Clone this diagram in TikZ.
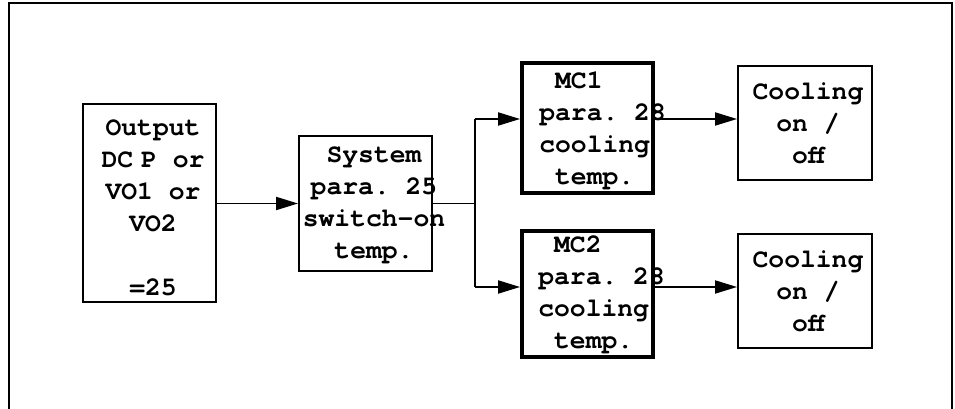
\documentclass[tikz,border=0pt]{standalone}
\usepackage{fontspec}
\setmainfont{TeX Gyre Cursor}
\usetikzlibrary{arrows.meta}
\frenchspacing

\tikzset{
  blk/.style={draw, line width=1.1pt, minimum width=2.66cm, inner sep=0pt},
  mcblk/.style={blk, line width=2.2pt, minimum width=2.62cm},
  txt/.style={inner sep=0pt, font=\fontsize{15}{18.2}\selectfont\bfseries},
  pfeil/.style={-{Triangle[length=4.4mm,width=2.6mm]}, line width=1.1pt}
}

\begin{document}
\begin{tikzpicture}
\useasboundingbox (0,0) rectangle (19.1,-8.18);
\draw[line width=1.1pt] (0.18,-8.3) -- (0.18,-0.06) -- (19.04,-0.06) -- (19.04,-8.3);

% boxes
\node[blk, minimum height=3.96cm] (out) at (2.99,-4.06) {};
\node[blk, minimum height=2.70cm] (sys) at (7.31,-4.07) {};
\node[mcblk, minimum height=2.60cm] (mc1) at (11.75,-2.56) {};
\node[mcblk, minimum height=2.52cm] (mc2) at (11.75,-5.88) {};
\node[blk, minimum width=2.68cm, minimum height=2.28cm] (cl1) at (16.10,-2.46) {};
\node[blk, minimum width=2.68cm, minimum height=2.28cm] (cl2) at (16.10,-5.82) {};

% texts
\node[txt, align=center] (out-t) at (3.06,-4.15) {Output\\DC\kern0.3em P or\\VO1 or\\VO2\\[18.2pt]=25};
\node[txt, align=center] (sys-t) at (7.48,-4.10) {System\\para. 25\\switch-on\\temp.};
\node[txt, align=left, anchor=west] (mc1-t) at (10.78,-2.62) {\ MC1\\para. 28\\cooling\\\ temp.};
\node[txt, align=left, anchor=west] (mc2-t) at (10.76,-5.90) {\ MC2\\para. 28\\cooling\\\ temp.};
\node[txt, align=center] (cl1-t) at (16.16,-2.46) {Cooling\\on /\\off};
\node[txt, align=center] (cl2-t) at (16.16,-5.82) {Cooling\\on /\\off};

% connectors
\coordinate (jn) at (9.5,-4.07);
\coordinate (j1) at (9.5,-2.38);
\coordinate (j2) at (9.5,-5.74);
\draw[pfeil] (out.east |- sys.west) -- (sys.west);
\draw[line width=1.1pt] (sys.east) -- (jn);
\draw[line width=1.1pt] (j1) -- (j2);
\draw[pfeil] (j1) -- (j1 -| mc1.west);
\draw[pfeil] (j2) -- (j2 -| mc2.west);
\draw[pfeil] (j1 -| mc1.east) -- (j1 -| cl1.west);
\draw[pfeil] (j2 -| mc2.east) -- (j2 -| cl2.west);
\end{tikzpicture}
\end{document}
